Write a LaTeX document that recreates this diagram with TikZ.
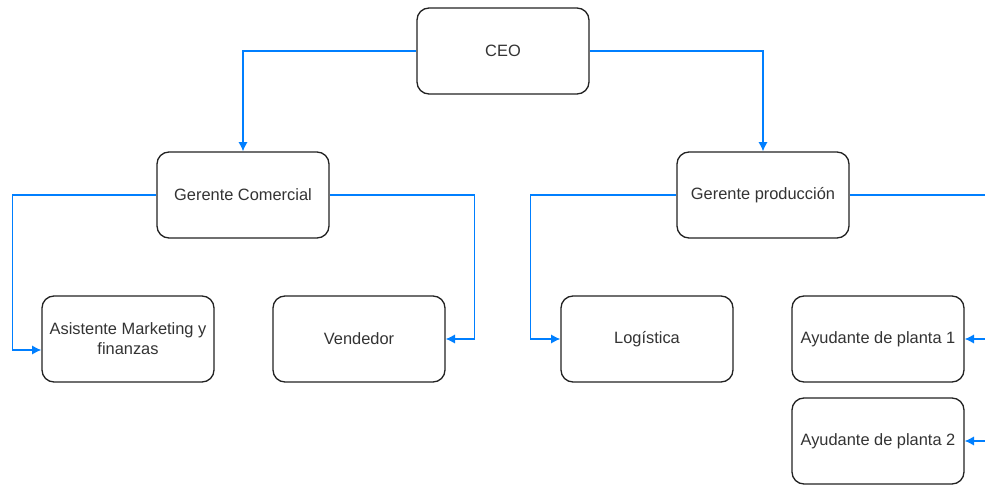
\documentclass[tikz,border=0pt]{standalone}
\usepackage{fontspec}
\setmainfont{Liberation Sans}
\usepackage{xcolor}
\usetikzlibrary{arrows.meta}

\definecolor{linkblue}{RGB}{0,127,255}
\definecolor{boxgrey}{RGB}{34,34,34}
\definecolor{textgrey}{RGB}{51,51,51}

\begin{document}
\begin{tikzpicture}[x=0.75pt, y=-0.75pt, >={Latex[length=7pt,width=7pt]},
    box/.style={draw=boxgrey, line width=1pt, rounded corners=9pt, fill=white,
      minimum width=129pt, minimum height=64.5pt, align=center,
      inner sep=1pt, text=textgrey, font=\fontsize{12.3}{15}\selectfont},
    link/.style={->, draw=linkblue, line width=1pt}]
    \useasboundingbox (0,0) rectangle (985,485);

    \coordinate (edgeA) at (985,195);
    \coordinate (edgeB) at (985,339);
    \coordinate (edgeC) at (985,441);

    \node[box] (ceo)   at (503,51)  {CEO};
    \node[box] (gcom)  at (243,195) {Gerente Comercial};
    \node[box] (gprod) at (763,195) {Gerente producción};
    \node[box] (asist) at (128,339) {Asistente Marketing y\\finanzas};
    \node[box] (vend)  at (359,339) {Vendedor};
    \node[box] (logis) at (647,339) {Logística};
    \node[box] (ayud1) at (878,339) {Ayudante de planta 1};
    \node[box] (ayud2) at (878,441) {Ayudante de planta 2};

    \draw[link] (ceo.west) -| (gcom.north);
    \draw[link] (ceo.east) -| (gprod.north);

    \draw[link] (gcom.west) -- ++(-144,0) |- ([yshift=-8.25pt]asist.west);
    \draw[link] (gcom.east) -- ++(145,0) |- (vend.east);
    \draw[link] (gprod.west) -- ++(-146,0) |- (logis.west);
    \draw[draw=linkblue, line width=1pt] (gprod.east) -- (edgeA);

    \draw[link] (edgeB) -- (ayud1.east);
    \draw[link] (edgeC) -- (ayud2.east);
  \end{tikzpicture}
\end{document}
